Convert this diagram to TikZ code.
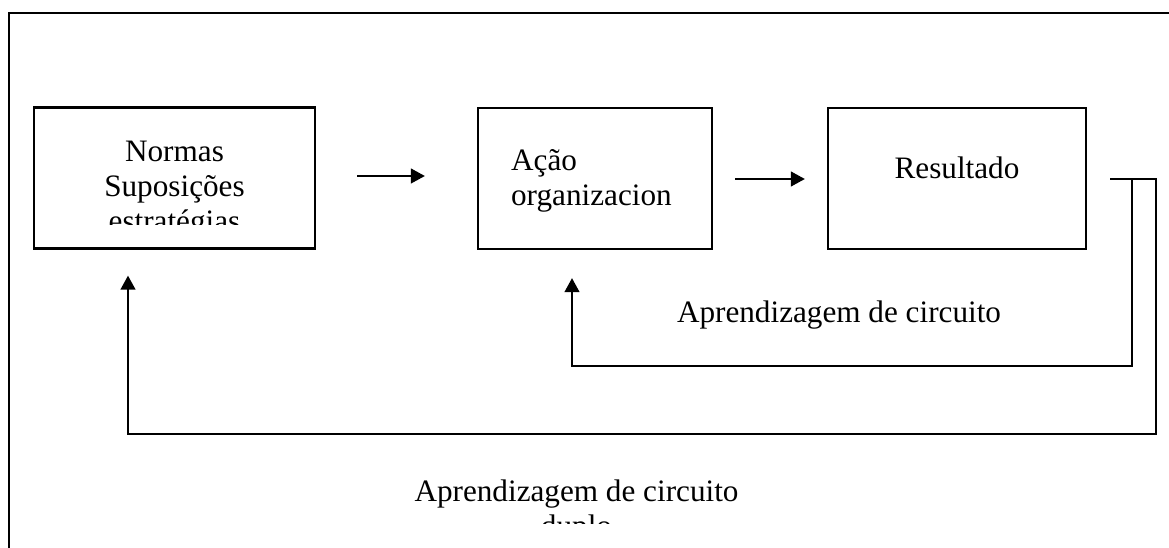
\documentclass[tikz,border=0pt]{standalone}
\usepackage{fontspec}
\setmainfont{Liberation Serif}
\usetikzlibrary{arrows.meta,calc}

\tikzset{every picture/.style={line width=1.7pt}}
\tikzset{
  blk/.style={draw, minimum width=#1, minimum height=105.75pt, inner sep=0pt},
  lbl/.style={anchor=base, inner sep=0.75pt, font=\fontsize{23.4}{27}\selectfont},
  flow/.style={-{Triangle[length=10.5pt,width=11pt]}},
}

\begin{document}
\begin{tikzpicture}[x=0.75pt,y=0.75pt,yscale=-1,xscale=1]
\useasboundingbox (0,0) rectangle (1169,548);

%Frame
\draw (9,548) -- (9,13) -- (1169,13) ;

%Shape: Rectangle [norm]
\node (norm) [blk=210.75pt] at (174.5,178) {};
%Shape: Rectangle [acao]
\node (acao) [blk=175.5pt] at (595,178.5) {};
%Shape: Rectangle [result]
\node (result) [blk=193.5pt] at (957,178.5) {};

% Text Node
\begin{scope}
\clip (34,108) rectangle (315,225);
\node (normA) [lbl] at (174.5,162) {Normas};
\node (normB) [lbl] at (174.5,197) {Suposições};
\node (normC) [lbl] at (174.5,232) {estratégias};
\end{scope}
% Text Node
\node (acaoA) [lbl, anchor=base west] at (509,171) {Ação};
\node (acaoB) [lbl, anchor=base west] at (509,206) {organizacion};
% Text Node
\node (resultA) [lbl] at (957,179) {Resultado};

%Straight Lines
\draw [flow] ($(norm.east)+(41,-2)$) -- ($(acao.west)+(-52,-2.5)$) ;
%Straight Lines
\draw [flow] ($(acao.east)+(22,0.5)$) -- ($(result.west)+(-22,0.5)$) ;

%Feedback loops
\coordinate (outer) at (1156,434);
\coordinate (inner) at (1132,366);
\draw [flow] ($(result.east)+(23,0.5)$) -| (outer) -| ($(norm.south)+(-46.5,26)$) ;
\draw [flow] (inner |- result.east) -- (inner) -| ($(acao.south)+(-23,28)$) ;

% Text Node
\node (single) [lbl] at (839,323) {Aprendizagem de circuito};
% Text Node
\begin{scope}
\clip (0,0) rectangle (1169,523);
\node (double) [lbl] at (576.5,501) {Aprendizagem de circuito};
\node (doubleB) [lbl] at (576.5,536) {duplo};
\end{scope}

\end{tikzpicture}
\end{document}
